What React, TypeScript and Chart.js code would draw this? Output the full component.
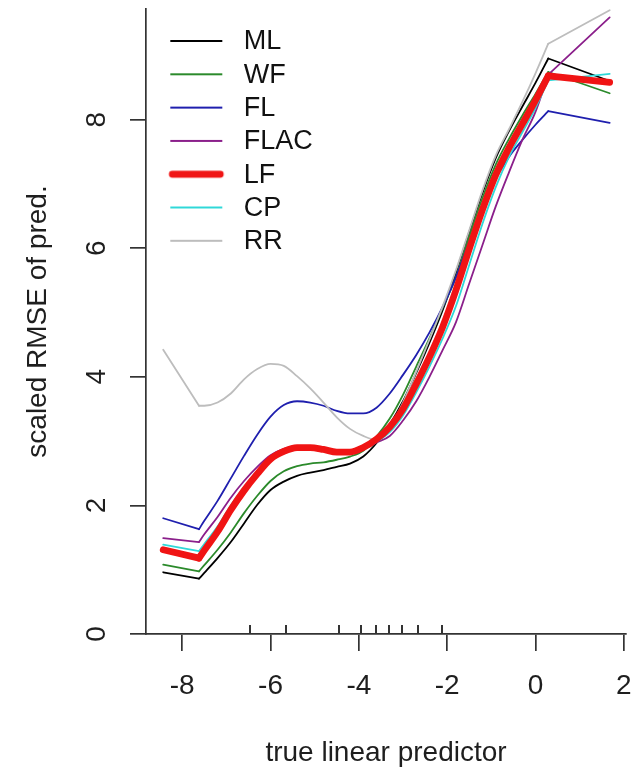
import React, { useEffect, useRef } from 'react';
import { Chart, registerables } from 'chart.js';

Chart.register(...registerables);

// ---- data ----
const xs = [-8.43, -7.62, -7.5, -7.2, -6.9, -6.6, -6.3, -6.0, -5.7, -5.4, -5.1, -4.8, -4.5, -4.2, -3.9, -3.6, -3.3, -3.0, -2.7, -2.4, -2.1, -1.8, -1.5, -1.2, -0.9, -0.6, -0.3, 0.0, 0.29, 1.68];

const ML = [0.96, 0.86, 0.95, 1.18, 1.43, 1.72, 2.01, 2.24, 2.37, 2.46, 2.51, 2.55, 2.60, 2.65, 2.76, 2.97, 3.26, 3.62, 4.06, 4.53, 5.04, 5.62, 6.25, 6.86, 7.40, 7.82, 8.20, 8.57, 8.95, 8.60];
const WF = [1.08, 0.975, 1.07, 1.31, 1.58, 1.88, 2.15, 2.38, 2.53, 2.61, 2.65, 2.67, 2.71, 2.76, 2.85, 3.07, 3.35, 3.72, 4.16, 4.60, 5.08, 5.55, 6.18, 6.78, 7.30, 7.70, 8.06, 8.40, 8.74, 8.41];
const FL = [1.80, 1.63, 1.76, 2.07, 2.42, 2.77, 3.10, 3.38, 3.56, 3.62, 3.60, 3.55, 3.47, 3.43, 3.43, 3.52, 3.74, 4.03, 4.34, 4.69, 5.09, 5.55, 6.10, 6.62, 7.08, 7.42, 7.68, 7.92, 8.13, 7.95];
const FLAC = [1.49, 1.43, 1.55, 1.82, 2.12, 2.38, 2.60, 2.78, 2.88, 2.92, 2.92, 2.89, 2.85, 2.84, 2.88, 2.98, 3.08, 3.32, 3.62, 4.00, 4.42, 4.85, 5.45, 6.05, 6.65, 7.18, 7.68, 8.12, 8.70, 9.59];
const LF = [1.31, 1.18, 1.30, 1.59, 1.93, 2.23, 2.49, 2.72, 2.84, 2.90, 2.90, 2.87, 2.83, 2.83, 2.90, 3.03, 3.22, 3.50, 3.89, 4.31, 4.78, 5.35, 5.99, 6.60, 7.14, 7.56, 7.93, 8.30, 8.68, 8.58];
const CP = [1.39, 1.29, 1.40, 1.67, 2.00, 2.28, 2.52, 2.72, 2.83, 2.88, 2.88, 2.85, 2.81, 2.81, 2.87, 2.99, 3.14, 3.40, 3.76, 4.16, 4.60, 5.10, 5.74, 6.38, 6.95, 7.42, 7.80, 8.18, 8.61, 8.71];
const RR = [4.42, 3.55, 3.55, 3.60, 3.74, 3.96, 4.12, 4.20, 4.17, 4.01, 3.82, 3.60, 3.37, 3.19, 3.08, 3.02, 3.22, 3.60, 4.08, 4.58, 5.10, 5.66, 6.28, 6.90, 7.44, 7.85, 8.27, 8.72, 9.18, 9.70];

const rugX = [-6.47, -5.65, -4.45, -3.96, -3.61, -3.32, -3.02, -2.66, -2.12];

const seriesNames = ['ML', 'WF', 'FL', 'FLAC', 'LF', 'CP', 'RR'];
const seriesValues = [ML, WF, FL, FLAC, LF, CP, RR];
const seriesColors = ['#000000', '#2b8a2b', '#1f1fae', '#8b1f8b', '#f01414', '#30d8d8', '#bdbdbd'];
const seriesWidths = [1.8, 1.8, 1.8, 1.8, 6.8, 1.8, 1.8];
const seriesOrder = [7, 6, 5, 4, 1, 3, 2];

const xMin = -8.82;
const xMax = 2.05;
const yMin = 0;
const yMax = 9.72;
const tickStep = 2;

const FONT = "'Liberation Sans', Arial, Helvetica, sans-serif";
const AXIS = '#333333';
const TEXT = '#1e1e1e';

function legendLine(color: string, width: number, thick: boolean) {
  const c = document.createElement('canvas');
  c.width = 78;
  c.height = 12;
  const g = c.getContext('2d') as CanvasRenderingContext2D;
  g.strokeStyle = color;
  g.lineWidth = width;
  g.lineCap = thick ? 'round' : 'butt';
  g.beginPath();
  g.moveTo(thick ? 20 : 18, 5);
  g.lineTo(thick ? 68 : 70, 5);
  g.stroke();
  return c;
}

function rugMark() {
  const c = document.createElement('canvas');
  c.width = 2;
  c.height = 18;
  const g = c.getContext('2d') as CanvasRenderingContext2D;
  g.fillStyle = AXIS;
  g.fillRect(0, 0, 2, 9);
  return c;
}

export default function App() {
  const ref = useRef<HTMLCanvasElement | null>(null);

  useEffect(() => {
    if (!ref.current) return;
    const last = xs.length;
    const pieces: [number, number, boolean][] = [
      [0, 2, false],
      [1, last - 1, true],
      [last - 2, last, false],
    ];
    const datasets: any[] = [];
    seriesNames.forEach((name, si) => {
      const vals = seriesValues[si];
      const img = legendLine(seriesColors[si], seriesWidths[si], seriesWidths[si] > 3);
      pieces.forEach(([a, b, mid]) => {
        datasets.push({
          label: name,
          data: xs.slice(a, b).map((x, i) => ({ x, y: vals[a + i] })),
          borderColor: seriesColors[si],
          backgroundColor: seriesColors[si],
          borderWidth: seriesWidths[si],
          pointRadius: 0,
          pointHoverRadius: 0,
          pointStyle: img,
          cubicInterpolationMode: mid ? 'monotone' : 'default',
          tension: 0,
          borderCapStyle: 'round',
          borderJoinStyle: 'round',
          fill: false,
          clip: false,
          order: seriesOrder[si],
          inLegend: mid,
        });
      });
    });
    datasets.push({
      label: 'rug',
      data: rugX.map((x) => ({ x, y: 0 })),
      showLine: false,
      pointStyle: rugMark(),
      pointRadius: 4,
      pointHoverRadius: 4,
      clip: false,
      order: 0,
      inLegend: false,
    });

    const chart = new Chart(ref.current, {
      type: 'line',
      data: { datasets },
      options: {
        responsive: false,
        animation: false,
        events: [],
        layout: { padding: { top: 9, right: 5, bottom: 0, left: 0 } },
        plugins: {
          tooltip: { enabled: false },
          legend: {
            position: 'chartArea',
            align: 'start',
            title: { display: true, text: '', font: { size: 1 }, padding: { top: 21, bottom: 0 } },
            labels: {
              usePointStyle: true,
              pointStyleWidth: 78,
              boxHeight: 27,
              padding: 6.3,
              color: '#111111',
              font: { family: FONT, size: 27 },
              filter: (item: any, data: any) => !!data.datasets[item.datasetIndex].inLegend,
              sort: (a: any, b: any) => a.datasetIndex - b.datasetIndex,
            },
          },
        },
        scales: {
          x: {
            type: 'linear',
            min: xMin,
            max: xMax,
            afterFit: (s: any) => {
              s.height = 136;
              s.paddingLeft = 0;
              s.paddingRight = 0;
            },
            ticks: {
              stepSize: tickStep,
              includeBounds: false,
              autoSkip: false,
              maxRotation: 0,
              padding: 18,
              color: TEXT,
              font: { family: FONT, size: 28 },
            },
            grid: { display: true, drawOnChartArea: false, drawTicks: true, tickLength: 17, color: AXIS, lineWidth: 1.7 },
            border: { display: true, color: AXIS, width: 1.7 },
            title: { display: true, text: 'true linear predictor', color: TEXT, font: { family: FONT, size: 28 }, padding: { top: 0, bottom: 0 } },
          },
          y: {
            type: 'linear',
            min: yMin,
            max: yMax,
            afterFit: (s: any) => {
              s.width = 146;
              s.paddingTop = 0;
              s.paddingBottom = 0;
            },
            ticks: {
              stepSize: tickStep,
              includeBounds: false,
              autoSkip: false,
              minRotation: 90,
              maxRotation: 90,
              crossAlign: 'center',
              padding: 25,
              color: TEXT,
              font: { family: FONT, size: 28 },
            },
            grid: { display: true, drawOnChartArea: false, drawTicks: true, tickLength: 16, color: AXIS, lineWidth: 1.7 },
            border: { display: true, color: AXIS, width: 1.7 },
            title: { display: true, text: 'scaled RMSE of pred.', color: TEXT, font: { family: FONT, size: 28 }, padding: { top: 21.7, bottom: 0 } },
          },
        },
      } as any,
    });
    return () => chart.destroy();
  }, []);

  return (
    <div style={{ position: 'fixed', left: 0, top: 0, width: 631, height: 770, background: '#ffffff' }}>
      <canvas ref={ref} width={631} height={770} style={{ display: 'block', width: 631, height: 770 }} />
    </div>
  );
}
